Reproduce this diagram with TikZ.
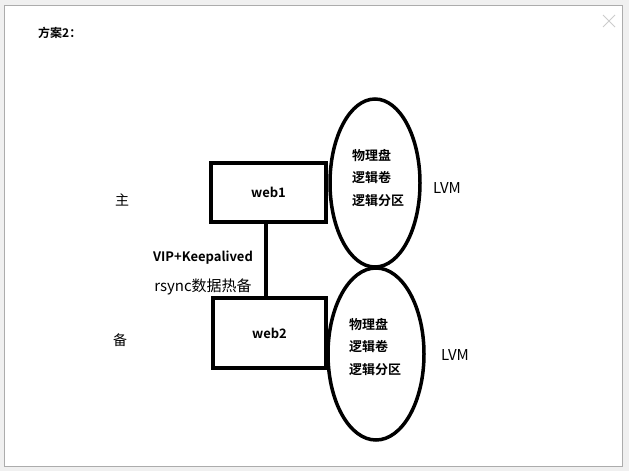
\documentclass[tikz,border=0pt]{standalone}
\usepackage{fontspec}
\setmainfont{Noto Sans CJK SC}[BoldFont={Noto Sans CJK SC Bold}]
\usetikzlibrary{shapes.geometric}
\begin{document}
\begin{tikzpicture}[x=1pt,y=-1pt,
    server/.style={rectangle, draw, line width=4pt, inner sep=0pt, font=\bfseries\fontsize{13}{15}\selectfont},
    lvm/.style={ellipse, draw, line width=3.5pt, inner sep=0pt},
    lvmtext/.style={align=left, inner sep=0pt, font=\bfseries\fontsize{13}{22.5}\selectfont},
    label/.style={inner sep=0pt, font=\fontsize{14}{16}\selectfont},
    link/.style={line width=4pt}
]
\useasboundingbox (0,0) rectangle (629,471);
% window
\fill[gray!12] (0,0) rectangle (629,471);
\draw[gray!65, fill=white] (4,5) rectangle (622,466);
\node[inner sep=0pt, font=\bfseries\fontsize{12}{14}\selectfont, anchor=west] (title) at (38,33) {方案2：};
\draw[gray!40, line width=1pt] (603,15) -- (615,27) (615,15) -- (603,27);

% servers
\node[server, minimum width=115, minimum height=59] (web1) at (268.5,192.5) {web1};
\node[server, minimum width=113, minimum height=70] (web2) at (269.5,333) {web2};

% storage
\node[lvm, minimum width=90, minimum height=168] (lvm1) at (375,183) {};
\node[lvm, minimum width=96, minimum height=172] (lvm2) at (376,354) {};
\node[lvmtext] (disk1) at (378,178) {物理盘\\逻辑卷\\逻辑分区};
\node[lvmtext] (disk2) at (375,347) {物理盘\\逻辑卷\\逻辑分区};
\node[label, font=\fontsize{15}{17}\selectfont] (lvmname1) at (447,188) {LVM};
\node[label, font=\fontsize{15}{17}\selectfont] (lvmname2) at (455,355) {LVM};

% roles
\node[label] (master) at (122,200) {主};
\node[label] (backup) at (120,340) {备};

% heartbeat
\draw[link] ([xshift=-3]web1.south) -- ([xshift=-3]web1.south |- web2.north);
\node[inner sep=0pt, font=\bfseries\fontsize{13}{15}\selectfont] (vip) at (203,258) {VIP+Keepalived};
\node[label, font=\fontsize{15}{17}\selectfont] (rsync) at (203,287) {rsync数据热备};
\end{tikzpicture}
\end{document}
